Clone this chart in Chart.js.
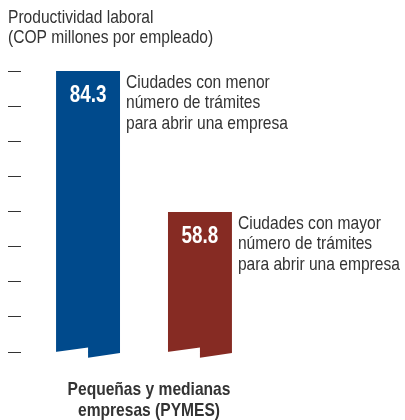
<!DOCTYPE html>
<html>
<head>
<meta charset="utf-8">
<script src="https://cdn.jsdelivr.net/npm/chart.js@4/dist/chart.umd.min.js"></script>
<style>
  body { margin: 0; background: #fff; }
  canvas { display: block; }
</style>
</head>
<body>
<canvas id="productividadChart" width="405" height="420"></canvas>
<script>
const titleLines = ['Productividad laboral', '(COP millones por empleado)'];
const categories = [['Pequeñas y medianas', 'empresas (PYMES)']];
const menorTramites = [84.3];
const mayorTramites = [58.8];
const menorLabel = ['Ciudades con menor', 'número de trámites', 'para abrir una empresa'];
const mayorLabel = ['Ciudades con mayor', 'número de trámites', 'para abrir una empresa'];

const FONT = '"Liberation Sans", Arial, sans-serif';
const textColor = '#333333';
const narrow = 0.82; // squeeze Liberation Sans to look like the condensed original

Chart.defaults.font.family = FONT;
Chart.defaults.color = textColor;

function narrowText(ctx, text, x, y) {
    ctx.save();
    ctx.translate(x, y);
    ctx.scale(narrow, 1);
    ctx.fillText(text, 0, 0);
    ctx.restore();
}

// title, value labels, side notes, category label and the torn bar bottoms
const decorations = {
    id: 'decorations',
    afterDatasetsDraw(chart) {
        const ctx = chart.ctx;
        const bottom = chart.chartArea.bottom;
        ctx.save();
        ctx.textBaseline = 'alphabetic';
        chart.data.datasets.forEach((ds, i) => {
            chart.getDatasetMeta(i).data.forEach((bar, j) => {
                const { x, y, width } = bar.getProps(['x', 'y', 'width'], true);
                const left = x - width / 2;
                const right = x + width / 2;

                ctx.fillStyle = '#ffffff';
                ctx.beginPath();
                ctx.moveTo(left - 1, bottom);
                ctx.lineTo(x, bottom - 4.5);
                ctx.lineTo(x, bottom + 1);
                ctx.lineTo(left - 1, bottom + 1);
                ctx.closePath();
                ctx.fill();

                ctx.fillStyle = ds.backgroundColor;
                ctx.beginPath();
                ctx.moveTo(x, bottom - 0.5);
                ctx.lineTo(x, bottom + 5.8);
                ctx.lineTo(right, bottom + 1);
                ctx.lineTo(right, bottom - 0.5);
                ctx.closePath();
                ctx.fill();

                ctx.fillStyle = '#ffffff';
                ctx.font = 'bold 23px ' + FONT;
                ctx.textAlign = 'center';
                narrowText(ctx, ds.data[j].toFixed(1), x, y + 31);

                ctx.fillStyle = textColor;
                ctx.font = '19px ' + FONT;
                ctx.textAlign = 'left';
                ds.notes.forEach((line, k) => {
                    narrowText(ctx, line, right + 6, y + 16.5 + k * 20.7);
                });
            });
        });

        ctx.fillStyle = textColor;
        ctx.font = '19px ' + FONT;
        ctx.textAlign = 'left';
        titleLines.forEach((line, k) => {
            narrowText(ctx, line, 8, 22.7 + k * 20.3);
        });

        const xScale = chart.scales.x;
        ctx.font = 'bold 19px ' + FONT;
        ctx.textAlign = 'center';
        chart.data.labels.forEach((label, t) => {
            const cx = xScale.getPixelForTick(t) + 5;
            label.forEach((line, k) => {
                narrowText(ctx, line, cx, bottom + 43 + k * 21);
            });
        });
        ctx.restore();
    }
};

const ctx = document.getElementById('productividadChart').getContext('2d');
const productividadChart = new Chart(ctx, {
    type: 'bar',
    data: {
        labels: categories,
        datasets: [
            {
                label: menorLabel.join(' '),
                data: menorTramites,
                notes: menorLabel,
                backgroundColor: '#004a8c',
                borderWidth: 0
            },
            {
                label: mayorLabel.join(' '),
                data: mayorTramites,
                notes: mayorLabel,
                backgroundColor: '#862b23',
                borderWidth: 0
            }
        ]
    },
    options: {
        responsive: false,
        animation: false,
        devicePixelRatio: 1,
        datasets: {
            bar: {
                categoryPercentage: 0.91,
                barPercentage: 0.5714
            }
        },
        layout: {
            padding: { top: 71, left: 8, right: 138, bottom: 0 }
        },
        plugins: {
            legend: { display: false },
            tooltip: { enabled: false },
            title: { display: false }
        },
        scales: {
            x: {
                grid: { display: false, drawTicks: false },
                border: { display: false },
                afterFit(scale) {
                    scale.height = 68;
                },
                ticks: { display: false }
            },
            y: {
                min: 33.5,
                max: 84.3,
                grid: {
                    drawOnChartArea: false,
                    drawTicks: true,
                    tickLength: 13,
                    color: '#333333',
                    lineWidth: 1
                },
                border: { display: false },
                ticks: {
                    count: 9,
                    display: false
                }
            }
        }
    },
    plugins: [decorations]
});
</script>
</body>
</html>
